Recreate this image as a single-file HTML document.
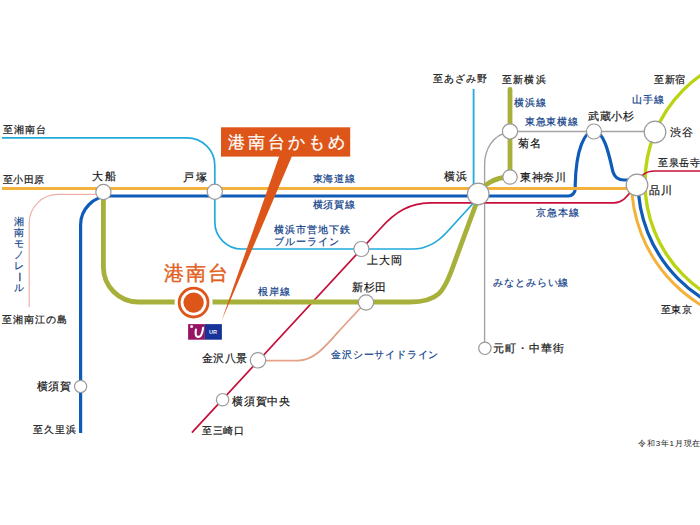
<!DOCTYPE html>
<html lang="ja"><head><meta charset="utf-8"><style>
html,body{margin:0;padding:0;background:#fff;width:700px;height:525px;overflow:hidden}
.l{position:absolute;font-family:"Liberation Sans",sans-serif;white-space:nowrap;line-height:1}
svg{position:absolute;left:0;top:0}
.ur{position:absolute;left:209px;top:330px;font-family:"Liberation Sans",sans-serif;font-size:5.6px;font-weight:bold;color:#e8e8f0;line-height:1}
</style></head><body>
<svg width="700" height="525" viewBox="0 0 700 525">
<path d="M2,137.8 H187 A27.8,27.8 0 0 1 214.8,165.6 V222 A27,27 0 0 0 241.8,249 H413 C427,249 437,243 447,232 L478,198" fill="none" stroke="#22aadb" stroke-width="1.7"/>
<path d="M473.6,89 V196" fill="none" stroke="#22aadb" stroke-width="1.8"/>
<path d="M103,194.4 H58 A28.8,28.8 0 0 0 29.2,223.2 V307" fill="none" stroke="#eeb0a8" stroke-width="1.2"/>
<path d="M484.6,348 V165 C484.6,150 492,135 510,131.5 H655" fill="none" stroke="#a3a3a3" stroke-width="1.4"/>
<path d="M80.6,433 V225 A29,29 0 0 1 109.6,196 H568 A7,7 0 0 0 575.2,189 V185 C576,148 585,131 594,131 C605,131 610,160 613,172 Q615.5,180 624,180 H637" fill="none" stroke="#0f5cb8" stroke-width="3.2"/>
<path d="M638,181.5 A138,138 0 0 0 776,319.5" fill="none" stroke="#0f5cb8" stroke-width="3.2"/>
<path d="M2,188.5 H637" fill="none" stroke="#f4b23c" stroke-width="3"/>
<path d="M631.5,181.5 A144.5,144.5 0 0 0 776,326" fill="none" stroke="#f4b23c" stroke-width="3"/>
<path d="M776,51.5 A131,131 0 0 0 776,313.5" fill="none" stroke="#bad414" stroke-width="3.4"/>
<path d="M191.9,432.6 L380,229 C395,212 410,202.9 430,202.9 H614 C622,202.6 626,198 632,190" fill="none" stroke="#c60f3a" stroke-width="1.7"/>
<path d="M636,186 C641,175 645,171 655,171 H700" fill="none" stroke="#c60f3a" stroke-width="1.7"/>
<path d="M103.4,192 V267 A35,35 0 0 0 138.4,302 H410 C439,302 444,290 451,272 L479,196" fill="none" stroke="#a6b03a" stroke-width="4.8"/>
<path d="M478,194 C482,186 494,177 510,177 V89.5" fill="none" stroke="#a6b03a" stroke-width="4.8" stroke-linecap="round"/>
<path d="M258,360.6 H298 C314,360.6 326,346 339,331 L366,302" fill="none" stroke="#e3a287" stroke-width="1.8"/>
<circle cx="103.4" cy="192" r="7.6" fill="#fff" stroke="#999999" stroke-width="1.2"/>
<circle cx="214.8" cy="191.8" r="7.6" fill="#fff" stroke="#999999" stroke-width="1.2"/>
<circle cx="478.2" cy="194" r="10.8" fill="#fff" stroke="#999999" stroke-width="1.2"/>
<circle cx="361.4" cy="249" r="7.5" fill="#fff" stroke="#999999" stroke-width="1.2"/>
<circle cx="366" cy="302.5" r="7.6" fill="#fff" stroke="#999999" stroke-width="1.2"/>
<circle cx="258" cy="360.3" r="7.7" fill="#fff" stroke="#999999" stroke-width="1.2"/>
<circle cx="222.6" cy="399.7" r="6.2" fill="#fff" stroke="#999999" stroke-width="1.2"/>
<circle cx="80.6" cy="386.4" r="6.1" fill="#fff" stroke="#999999" stroke-width="1.2"/>
<circle cx="510" cy="131.4" r="7.6" fill="#fff" stroke="#999999" stroke-width="1.2"/>
<circle cx="510" cy="177" r="7.2" fill="#fff" stroke="#999999" stroke-width="1.2"/>
<circle cx="594" cy="131.5" r="7.5" fill="#fff" stroke="#999999" stroke-width="1.2"/>
<circle cx="655" cy="132" r="10.8" fill="#fff" stroke="#999999" stroke-width="1.2"/>
<circle cx="637" cy="185" r="10.8" fill="#fff" stroke="#999999" stroke-width="1.2"/>
<circle cx="484.9" cy="348.3" r="6.2" fill="#fff" stroke="#999999" stroke-width="1.2"/>
<circle cx="193.6" cy="302.6" r="19" fill="#fff"/>
<circle cx="193.6" cy="302.6" r="14.4" fill="none" stroke="#dd5518" stroke-width="2.8"/>
<circle cx="193.6" cy="302.6" r="10.2" fill="#dd5518"/>
<rect x="221" y="127.3" width="129.2" height="29.3" fill="#dd5518"/>
<path d="M279.3,156 L292,156 L221.5,321 Z" fill="#dd5518"/>
<rect x="188.1" y="324.1" width="16.8" height="15.6" fill="#951463"/>
<rect x="204.9" y="324.1" width="17" height="15.6" fill="#17339a"/>
<path d="M195.9,329.6 C195.4,333 195.2,336.6 197.9,336.9 C201.2,337.2 202.6,332 203.1,327.8" fill="none" stroke="#fff" stroke-width="2.1" stroke-linecap="round"/>
<circle cx="191.6" cy="326.6" r="1.5" fill="#f4eaf4"/>
</svg>
<div class="l" style="left:2.6px;top:125.3px;font-size:9.75px;letter-spacing:1.0px;color:#151515;-webkit-text-stroke:0.2px #151515">至湘南台</div>
<div class="l" style="left:2.7px;top:175.1px;font-size:9.75px;letter-spacing:0.58px;color:#151515;-webkit-text-stroke:0.2px #151515">至小田原</div>
<div class="l" style="left:92.0px;top:171.4px;font-size:11px;letter-spacing:1.9px;color:#151515;-webkit-text-stroke:0.2px #151515">大船</div>
<div class="l" style="left:183.4px;top:172.4px;font-size:11px;letter-spacing:1.3px;color:#151515;-webkit-text-stroke:0.2px #151515">戸塚</div>
<div class="l" style="left:312.5px;top:173.5px;font-size:9.75px;letter-spacing:0.93px;color:#0f4088;-webkit-text-stroke:0.2px #0f4088">東海道線</div>
<div class="l" style="left:312.5px;top:200.0px;font-size:9.75px;letter-spacing:0.93px;color:#0f4088;-webkit-text-stroke:0.2px #0f4088">横須賀線</div>
<div class="l" style="left:274.4px;top:225.3px;font-size:9.75px;letter-spacing:0.92px;color:#0f4088;-webkit-text-stroke:0.2px #0f4088">横浜市営地下鉄</div>
<div class="l" style="left:273.8px;top:237.1px;font-size:9.75px;letter-spacing:1.02px;color:#0f4088;-webkit-text-stroke:0.2px #0f4088">ブルーライン</div>
<div class="l" style="left:367.2px;top:254.6px;font-size:11px;letter-spacing:0.75px;color:#151515;-webkit-text-stroke:0.2px #151515">上大岡</div>
<div class="l" style="left:352.0px;top:281.8px;font-size:11px;letter-spacing:0.5px;color:#151515;-webkit-text-stroke:0.2px #151515">新杉田</div>
<div class="l" style="left:257.5px;top:286.9px;font-size:9.75px;letter-spacing:1.1px;color:#0f4088;-webkit-text-stroke:0.2px #0f4088">根岸線</div>
<div class="l" style="left:201.6px;top:353.4px;font-size:11px;letter-spacing:0.5px;color:#151515;-webkit-text-stroke:0.2px #151515">金沢八景</div>
<div class="l" style="left:231.8px;top:395.5px;font-size:11px;letter-spacing:0.88px;color:#151515;-webkit-text-stroke:0.2px #151515">横須賀中央</div>
<div class="l" style="left:201.9px;top:425.5px;font-size:9.75px;letter-spacing:0.73px;color:#151515;-webkit-text-stroke:0.2px #151515">至三崎口</div>
<div class="l" style="left:331.1px;top:350.1px;font-size:9.75px;letter-spacing:0.81px;color:#0f4088;-webkit-text-stroke:0.2px #0f4088">金沢シーサイドライン</div>
<div class="l" style="left:2.0px;top:315.2px;font-size:9.75px;letter-spacing:1.0px;color:#151515;-webkit-text-stroke:0.2px #151515">至湘南江の島</div>
<div class="l" style="left:36.8px;top:380.8px;font-size:11px;letter-spacing:0.7px;color:#151515;-webkit-text-stroke:0.2px #151515">横須賀</div>
<div class="l" style="left:32.8px;top:425.0px;font-size:9.75px;letter-spacing:1.13px;color:#151515;-webkit-text-stroke:0.2px #151515">至久里浜</div>
<div class="l" style="left:433.0px;top:74.0px;font-size:9.75px;letter-spacing:1.0px;color:#151515;-webkit-text-stroke:0.2px #151515">至あざみ野</div>
<div class="l" style="left:502.2px;top:74.5px;font-size:9.75px;letter-spacing:1.13px;color:#151515;-webkit-text-stroke:0.2px #151515">至新横浜</div>
<div class="l" style="left:514.2px;top:98.0px;font-size:9.75px;letter-spacing:0.8px;color:#0f4088;-webkit-text-stroke:0.2px #0f4088">横浜線</div>
<div class="l" style="left:524.8px;top:117.4px;font-size:9.75px;letter-spacing:0.85px;color:#0f4088;-webkit-text-stroke:0.2px #0f4088">東急東横線</div>
<div class="l" style="left:518.0px;top:137.5px;font-size:11px;letter-spacing:1.0px;color:#151515;-webkit-text-stroke:0.2px #151515">菊名</div>
<div class="l" style="left:588.0px;top:110.8px;font-size:11px;letter-spacing:0.67px;color:#151515;-webkit-text-stroke:0.2px #151515">武蔵小杉</div>
<div class="l" style="left:669.8px;top:127.0px;font-size:11px;letter-spacing:1.4px;color:#151515;-webkit-text-stroke:0.2px #151515">渋谷</div>
<div class="l" style="left:654.0px;top:74.7px;font-size:9.75px;letter-spacing:0.5px;color:#151515;-webkit-text-stroke:0.2px #151515">至新宿</div>
<div class="l" style="left:632.0px;top:94.7px;font-size:9.75px;letter-spacing:1.0px;color:#0f4088;-webkit-text-stroke:0.2px #0f4088">山手線</div>
<div class="l" style="left:444.1px;top:171.2px;font-size:11px;letter-spacing:1.3px;color:#151515;-webkit-text-stroke:0.2px #151515">横浜</div>
<div class="l" style="left:520.1px;top:171.5px;font-size:11px;letter-spacing:0.67px;color:#151515;-webkit-text-stroke:0.2px #151515">東神奈川</div>
<div class="l" style="left:536.2px;top:207.8px;font-size:9.75px;letter-spacing:0.87px;color:#0f4088;-webkit-text-stroke:0.2px #0f4088">京急本線</div>
<div class="l" style="left:649.0px;top:185.0px;font-size:11px;letter-spacing:1.0px;color:#151515;-webkit-text-stroke:0.2px #151515">品川</div>
<div class="l" style="left:658.0px;top:157.5px;font-size:9.75px;letter-spacing:0.67px;color:#151515;-webkit-text-stroke:0.2px #151515">至泉岳寺</div>
<div class="l" style="left:660.8px;top:304.5px;font-size:9.75px;letter-spacing:0.7px;color:#151515;-webkit-text-stroke:0.2px #151515">至東京</div>
<div class="l" style="left:492.9px;top:342.8px;font-size:11px;letter-spacing:0.94px;color:#151515;-webkit-text-stroke:0.2px #151515">元町・中華街</div>
<div class="l" style="left:493.1px;top:277.8px;font-size:9.75px;letter-spacing:0.9px;color:#0f4088;-webkit-text-stroke:0.2px #0f4088">みなとみらい線</div>
<div class="l" style="left:638.1px;top:439.7px;font-size:8px;letter-spacing:0.77px;color:#151515;-webkit-text-stroke:0.0px #151515">令和3年1月現在</div>
<div class="l" style="left:163.8px;top:263.6px;font-size:19.5px;letter-spacing:1.95px;color:#e2601c;-webkit-text-stroke:0.4px #e2601c">港南台</div>
<div class="l" style="left:227.5px;top:133.5px;font-size:17px;letter-spacing:3.0px;color:#fff;-webkit-text-stroke:0.25px #fff">港南台かもめ</div>
<div class="l" style="left:14px;top:217.3px;font-size:9.5px;color:#0f4088;-webkit-text-stroke:0.15px #0f4088">湘</div>
<div class="l" style="left:14px;top:228.2px;font-size:9.5px;color:#0f4088;-webkit-text-stroke:0.15px #0f4088">南</div>
<div class="l" style="left:14px;top:239.1px;font-size:9.5px;color:#0f4088;-webkit-text-stroke:0.15px #0f4088">モ</div>
<div class="l" style="left:14px;top:250.0px;font-size:9.5px;color:#0f4088;-webkit-text-stroke:0.15px #0f4088">ノ</div>
<div class="l" style="left:14px;top:260.9px;font-size:9.5px;color:#0f4088;-webkit-text-stroke:0.15px #0f4088">レ</div>
<div class="l" style="left:14px;top:271.8px;font-size:9.5px;color:#0f4088;-webkit-text-stroke:0.15px #0f4088;transform:rotate(90deg);transform-origin:4.75px 4.75px">ー</div>
<div class="l" style="left:14px;top:282.7px;font-size:9.5px;color:#0f4088;-webkit-text-stroke:0.15px #0f4088">ル</div>
<div class="ur">UR</div>
</body></html>
